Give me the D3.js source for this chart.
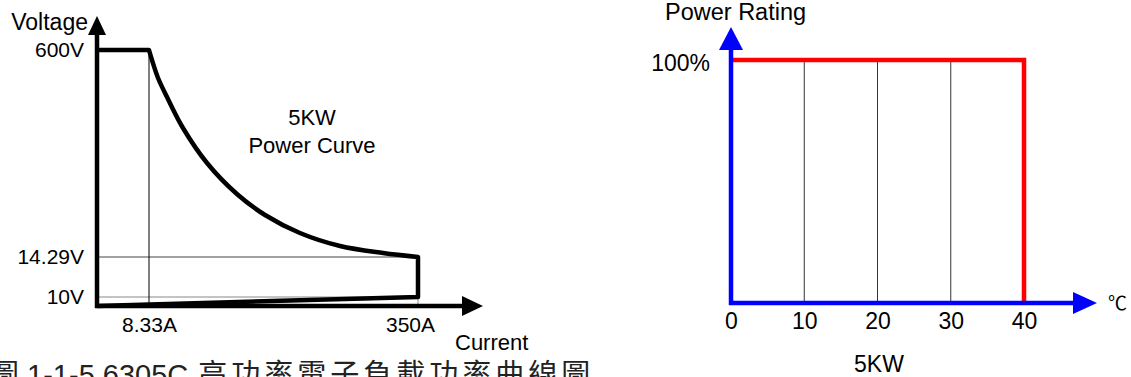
<!DOCTYPE html>
<html>
<head>
<meta charset="utf-8">
<script src="https://cdn.jsdelivr.net/npm/d3@7"></script>
<style>
  body { margin: 0; background: #fff; }
  svg { display: block; font-family: "Liberation Sans", Arial, "Noto Sans CJK TC", sans-serif; }
</style>
</head>
<body>
<div id="chart"></div>
<script>
// Left chart: voltage / current power curve (schematic, uneven axes)
const voltTicks = [600, 14.29, 10];
const currTicks = [8.33, 350];
const curveCurrent = [8.33, 12.1, 19.8, 31.2, 51.5, 82, 120, 155.7, 200, 251, 305.6, 350];
const curveVoltage = [600, 571.7, 520.8, 467, 379.3, 280.3, 192.5, 133.1, 82.2, 45.4, 25.6, 14.29];

// Right chart: power rating vs temperature
const tempTicks = [0, 10, 20, 30, 40];
const gridTemps = [10, 20, 30];
const ratingTicks = [100];
const deratingTemp = [0, 40, 40];
const deratingRating = [100, 100, 0];

const captionLatin = "圖 1-1-5 6305C";
const captionCjk = "高功率電子負載功率曲線圖";

const width = 1131, height = 377;
const svg = d3.select("#chart").append("svg")
    .attr("width", width)
    .attr("height", height);

// ---------- left chart ----------
const x = d3.scaleLinear().domain([0, 8.33, 350]).range([97, 149, 418]);
const y = d3.scaleLinear().domain([0, 10, 14.29, 600]).range([306, 297, 257, 50]);

const left = svg.append("g");

// thin guide lines
left.append("line")
    .attr("x1", x(0)).attr("x2", x(350))
    .attr("y1", y(14.29)).attr("y2", y(14.29))
    .attr("stroke", "#444").attr("stroke-width", 1);
left.append("line")
    .attr("x1", x(0)).attr("x2", x(350))
    .attr("y1", y(10)).attr("y2", y(10))
    .attr("stroke", "#888").attr("stroke-width", 1);
left.append("line")
    .attr("x1", x(8.33)).attr("x2", x(8.33))
    .attr("y1", y(600)).attr("y2", y(0))
    .attr("stroke", "#000").attr("stroke-width", 1);
left.append("line")
    .attr("x1", x(350)).attr("x2", x(350))
    .attr("y1", y(10)).attr("y2", y(0))
    .attr("stroke", "#888").attr("stroke-width", 1);

// power curve outline
const curvePts = curveCurrent.map((c, i) => [c, curveVoltage[i]]);
const curveLine = d3.line()
    .x(d => x(d[0]))
    .y(d => y(d[1]))
    .curve(d3.curveCatmullRom.alpha(0.5));
const straight = d3.line().x(d => x(d[0])).y(d => y(d[1]));

const outline = straight([[0, 600], [8.33, 600]]) +
    curveLine(curvePts).replace(/^M[^CL]*/, "L" + x(8.33) + "," + y(600)) +
    straight([[350, 14.29], [350, 10], [0, 0]]).replace(/^M/, "L");

left.append("path")
    .attr("d", outline)
    .attr("fill", "none")
    .attr("stroke", "#000")
    .attr("stroke-width", 4.5)
    .attr("stroke-linejoin", "round");

// axes lines with arrows
left.append("line")
    .attr("x1", x(0)).attr("x2", x(0))
    .attr("y1", y(0) + 2).attr("y2", 34)
    .attr("stroke", "#000").attr("stroke-width", 4.5);
left.append("path")
    .attr("d", `M${x(0)},16 L${x(0) - 9},35 L${x(0) + 9},35 Z`)
    .attr("fill", "#000");
left.append("line")
    .attr("x1", x(0) - 2).attr("x2", 463)
    .attr("y1", y(0)).attr("y2", y(0))
    .attr("stroke", "#000").attr("stroke-width", 4.5);
left.append("path")
    .attr("d", `M483,${y(0)} L462,${y(0) - 10} L462,${y(0) + 10} Z`)
    .attr("fill", "#000");

// tick labels
const yAxis = left.append("g")
    .attr("transform", `translate(${x(0) - 2},0)`)
    .call(d3.axisLeft(y).tickValues(voltTicks).tickSize(0).tickPadding(11).tickFormat(d => d + "V"));
yAxis.select(".domain").remove();
yAxis.selectAll("text")
    .attr("font-size", 21)
    .attr("font-family", "Liberation Sans, Arial, sans-serif")
    .attr("fill", "#000");

const xAxis = left.append("g")
    .attr("transform", `translate(0,${y(0)})`)
    .call(d3.axisBottom(x).tickValues(currTicks).tickSize(0).tickPadding(11).tickFormat(d => d + "A"));
xAxis.select(".domain").remove();
xAxis.selectAll("text")
    .attr("font-size", 21)
    .attr("font-family", "Liberation Sans, Arial, sans-serif")
    .attr("fill", "#000");
xAxis.selectAll(".tick").filter(d => d === 350).select("text").attr("dx", -8);

left.append("text")
    .attr("x", 88).attr("y", 30)
    .attr("text-anchor", "end")
    .attr("font-size", 23)
    .text("Voltage");
left.append("text")
    .attr("x", 455).attr("y", 350)
    .attr("font-size", 22)
    .text("Current");
left.append("text")
    .attr("x", 312).attr("y", 125)
    .attr("text-anchor", "middle")
    .attr("font-size", 22)
    .text("5KW");
left.append("text")
    .attr("x", 312).attr("y", 153)
    .attr("text-anchor", "middle")
    .attr("font-size", 22)
    .text("Power Curve");

// ---------- right chart ----------
const xt = d3.scaleLinear().domain([0, 40]).range([731, 1024]);
const yr = d3.scaleLinear().domain([0, 100]).range([303, 60]);

const right = svg.append("g");

right.selectAll(".grid")
    .data(gridTemps)
  .enter().append("line")
    .attr("class", "grid")
    .attr("x1", d => xt(d)).attr("x2", d => xt(d))
    .attr("y1", yr(100)).attr("y2", yr(0))
    .attr("stroke", "#333").attr("stroke-width", 1);

const derating = d3.line()
    .x(d => xt(d[0]))
    .y(d => yr(d[1]));
right.append("path")
    .datum(deratingTemp.map((t, i) => [t, deratingRating[i]]))
    .attr("d", derating)
    .attr("fill", "none")
    .attr("stroke", "#ff0000")
    .attr("stroke-width", 4.5);

// blue axes
right.append("line")
    .attr("x1", xt(0)).attr("x2", xt(0))
    .attr("y1", yr(0) + 2).attr("y2", 48)
    .attr("stroke", "#0000ff").attr("stroke-width", 4.5);
right.append("path")
    .attr("d", `M${xt(0)},27 L${xt(0) - 12},50 L${xt(0) + 12},50 Z`)
    .attr("fill", "#0000ff");
right.append("line")
    .attr("x1", xt(0) - 2).attr("x2", 1076)
    .attr("y1", yr(0)).attr("y2", yr(0))
    .attr("stroke", "#0000ff").attr("stroke-width", 4.5);
right.append("path")
    .attr("d", `M1097,${yr(0)} L1073,${yr(0) - 11} L1073,${yr(0) + 11} Z`)
    .attr("fill", "#0000ff");

const tAxis = right.append("g")
    .attr("transform", `translate(0,${yr(0)})`)
    .call(d3.axisBottom(xt).tickValues(tempTicks).tickSize(0).tickPadding(10));
tAxis.select(".domain").remove();
tAxis.selectAll("text")
    .attr("font-size", 23)
    .attr("font-family", "Liberation Sans, Arial, sans-serif")
    .attr("fill", "#000");

const rAxis = right.append("g")
    .attr("transform", `translate(${xt(0)},0)`)
    .call(d3.axisLeft(yr).tickValues(ratingTicks).tickSize(0).tickPadding(21).tickFormat(d => d + "%"));
rAxis.select(".domain").remove();
rAxis.selectAll("text")
    .attr("font-size", 23)
    .attr("font-family", "Liberation Sans, Arial, sans-serif")
    .attr("fill", "#000")
    .attr("dy", "0.45em");

right.append("text")
    .attr("x", 665).attr("y", 20)
    .attr("font-size", 23.5)
    .text("Power Rating");
right.append("text")
    .attr("x", 1108).attr("y", 310)
    .attr("font-size", 19)
    .text("℃");
right.append("text")
    .attr("x", 879).attr("y", 372)
    .attr("text-anchor", "middle")
    .attr("font-size", 23)
    .text("5KW");

// caption (cut off at the bottom edge, as in the source)
const cap = svg.append("text")
    .attr("x", -10).attr("y", 385)
    .attr("font-size", 29)
    .attr("fill", "#222");
cap.append("tspan").text(captionLatin);
cap.append("tspan")
    .attr("dx", 10)
    .attr("letter-spacing", 4)
    .text(captionCjk);
</script>
</body>
</html>
